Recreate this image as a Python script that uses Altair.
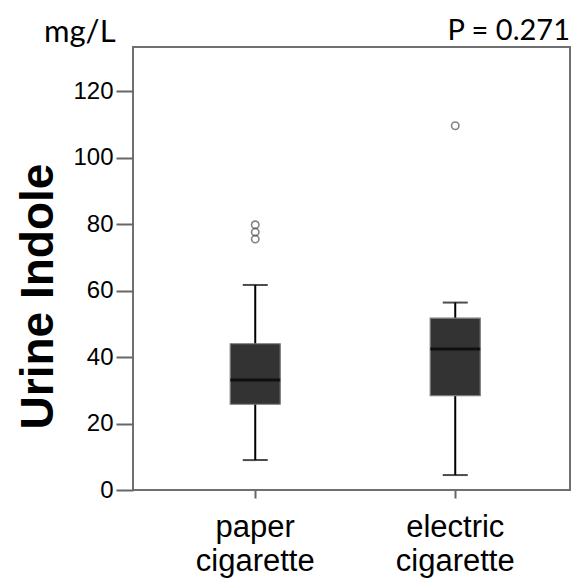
import altair as alt
import pandas as pd

# ---- data ----
categories = ["paper cigarette", "electric cigarette"]
whisker_low = [9.0, 4.5]
q1 = [25.8, 28.4]
median = [33.1, 42.4]
q3 = [44.0, 51.7]
whisker_high = [61.7, 56.4]

outlier_groups = ["paper cigarette", "paper cigarette", "paper cigarette", "electric cigarette"]
outlier_values = [79.8, 77.6, 75.5, 109.6]

y_ticks = [0, 20, 40, 60, 80, 100, 120]
y_title = "Urine Indole"
unit_label = ["mg/L"]
p_label = ["P = 0.271"]

box_df = pd.DataFrame({
    "group": categories,
    "lo": whisker_low,
    "q1": q1,
    "med": median,
    "q3": q3,
    "hi": whisker_high,
})
out_df = pd.DataFrame({"group": outlier_groups, "value": outlier_values})

x_enc = alt.X(
    "group:N",
    sort=categories,
    title=None,
    scale=alt.Scale(type="band", paddingInner=0.75, paddingOuter=0.4675, align=0.52),
    axis=alt.Axis(
        labelAngle=0,
        labelFont="Liberation Sans",
        labelFontSize=31,
        labelColor="black",
        labelExpr="split(datum.label, ' ')",
        labelLineHeight=34,
        labelPadding=14,
        tickSize=8,
        tickWidth=2,
        tickColor="#666666",
        domain=False,
    ),
)
y_scale = alt.Scale(domain=[0, 133.3], nice=False, zero=True)
y_axis = alt.Axis(
    values=y_ticks,
    grid=False,
    domain=False,
    tickSize=17,
    tickWidth=2,
    tickColor="#666666",
    labelFont="Liberation Sans",
    labelFontSize=24,
    labelColor="black",
    labelPadding=3,
    title=y_title,
    titleFont="Liberation Sans",
    titleFontWeight="bold",
    titleFontSize=46,
    titleColor="black",
    titleAngle=270,
    titleAlign="center",
    titleBaseline="alphabetic",
    titleX=-81,
    titleY=249,
)

base = alt.Chart(box_df)

whisker = base.mark_rule(color="black", strokeWidth=2).encode(
    x=x_enc,
    y=alt.Y("lo:Q", scale=y_scale, axis=y_axis),
    y2="hi:Q",
)
cap_lo = base.mark_tick(color="black", size=25, thickness=2, orient="horizontal").encode(
    x=alt.X("group:N", sort=categories), y="lo:Q"
)
cap_hi = base.mark_tick(color="black", size=25, thickness=2, orient="horizontal").encode(
    x=alt.X("group:N", sort=categories), y="hi:Q"
)
box = base.mark_bar(fill="#333333", stroke="#7a7a7a", strokeWidth=1.2).encode(
    x=alt.X("group:N", sort=categories), y="q1:Q", y2="q3:Q"
)
med = base.mark_tick(color="black", size=50, thickness=3, orient="horizontal").encode(
    x=alt.X("group:N", sort=categories), y="med:Q"
)
outliers = alt.Chart(out_df).mark_point(
    shape="circle", filled=False, size=55, stroke="#505050", strokeWidth=1.6
).encode(x=alt.X("group:N", sort=categories), y="value:Q")

unit_text = alt.Chart(pd.DataFrame({"t": unit_label})).mark_text(
    font="Lato", fontSize=31, color="black", align="left", baseline="alphabetic"
).encode(x=alt.value(-89), y=alt.value(-5), text="t:N")

p_text = alt.Chart(pd.DataFrame({"t": p_label})).mark_text(
    font="Lato", fontSize=29, color="black", align="right", baseline="alphabetic"
).encode(x=alt.value(437), y=alt.value(-7), text="t:N")

chart = alt.layer(whisker, cap_lo, cap_hi, box, med, outliers, unit_text, p_text).properties(
    width=437,
    height=443,
    autosize=alt.AutoSizeParams(type="none"),
    padding={"left": 125, "top": 39, "right": 1, "bottom": 94},
    background="white",
).configure_view(
    stroke="#707070", strokeWidth=2
)

chart.save("out.html", embed_options={"renderer": "svg", "actions": False})
